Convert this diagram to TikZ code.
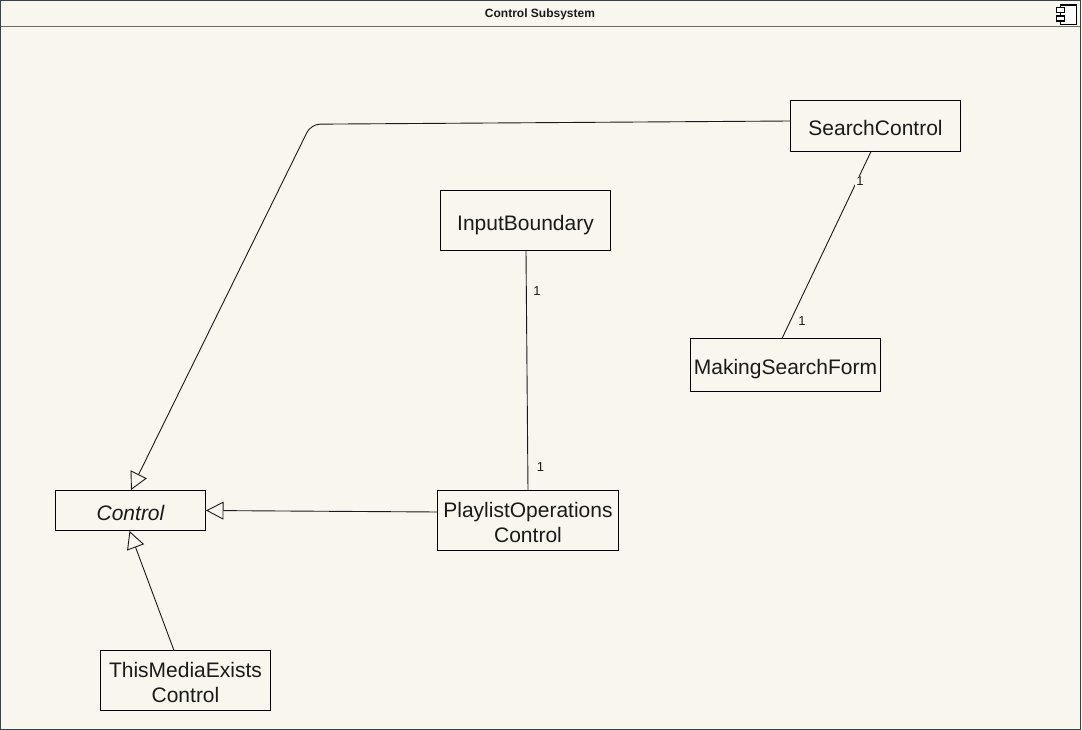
\documentclass[tikz,border=0pt]{standalone}
\usepackage{fontspec}
\setmainfont{Liberation Sans}
\usetikzlibrary{arrows.meta}
\definecolor{paper}{HTML}{F9F6EE}
\definecolor{framec}{HTML}{36424E}
\definecolor{ink}{HTML}{1A1A1A}
\newcommand{\firstline}{\rule{0pt}{18.5pt}}
\tikzset{
  classbase/.style={draw=black,line width=0.8pt,fill=paper,inner sep=0pt,text=ink,font=\fontsize{21}{25}\selectfont},
  classbox/.style={classbase,text height=20pt,text depth=1pt},
  classtwo/.style={classbase,align=center},
  mult/.style={fill=paper,inner sep=1pt,text=ink,font=\fontsize{13}{15}\selectfont},
  link/.style={draw=ink,line width=0.9pt},
  inherit/.style={draw=ink,line width=0.9pt,-{Triangle[open,length=17.5pt,width=18pt,fill=paper]}},
  iconpart/.style={draw=black,line width=1.1pt,fill=white}
}
\begin{document}
\begin{tikzpicture}[x=1pt,y=-1pt]
\useasboundingbox (0,0) rectangle (1082,730);
\fill[paper] (0,0) rectangle (1082,730);
\draw[gray!85!black,line width=0.9pt] (0,26.5) -- (1081,26.5);
\draw[framec,line width=1.2pt] (0.5,0.5) rectangle (1080.5,729.5);
\node[font=\bfseries\fontsize{12}{14}\selectfont,text=ink] (title) at (540,14) {Control Subsystem};
% component icon
\draw[iconpart] (1060.5,5) rectangle (1076.7,24.5);
\draw[iconpart] (1056.5,7.5) rectangle (1064.7,12.5);
\draw[iconpart] (1056.5,16) rectangle (1064.7,21);
% classes
\node[classbox,minimum width=170pt,minimum height=51pt] (search) at (875.5,126) {SearchControl};
\node[classbox,minimum width=170pt,minimum height=60pt,text height=21pt] (input) at (525.5,220.5) {InputBoundary};
\node[classbox,minimum width=190pt,minimum height=53pt] (form) at (785.5,365) {MakingSearchForm};
\node[classbox,minimum width=150pt,minimum height=40pt,font=\itshape\fontsize{21}{25}\selectfont] (control) at (130.5,510.5) {Control};
\node[classtwo,minimum width=180.5pt,minimum height=60pt] (playlist) at (528,520.5) {\firstline PlaylistOperations\\Control};
\node[classtwo,minimum width=170pt,minimum height=60pt] (media) at (185.5,680.5) {\firstline ThisMediaExists\\Control};
% connector ends on the box edges
\coordinate (searchW) at (790.5,121);
\coordinate (bend) at (311,124.2);
\coordinate (controlT) at (131,490);
\coordinate (searchS) at (871,151.5);
\coordinate (formN) at (782,338.5);
\coordinate (inputS) at (526,250.5);
\coordinate (playlistN) at (528,490.5);
\coordinate (playlistW) at (437.5,512);
\coordinate (controlE) at (206,510.5);
\coordinate (mediaN) at (174,650.5);
\coordinate (controlB) at (129.5,531);
\draw[inherit,rounded corners=9pt] (searchW) -- (bend) -- (controlT);
\draw[inherit] (playlistW) -- (controlE);
\draw[inherit] (mediaN) -- (controlB);
\draw[link] (searchS) -- (formN);
\draw[link] (inputS) -- (playlistN);
\node[mult] (m1) at (860,181.5) {1};
\node[mult] (m2) at (802,321.5) {1};
\node[mult] (m3) at (537,291.5) {1};
\node[mult] (m4) at (540.5,467.5) {1};
\end{tikzpicture}
\end{document}
